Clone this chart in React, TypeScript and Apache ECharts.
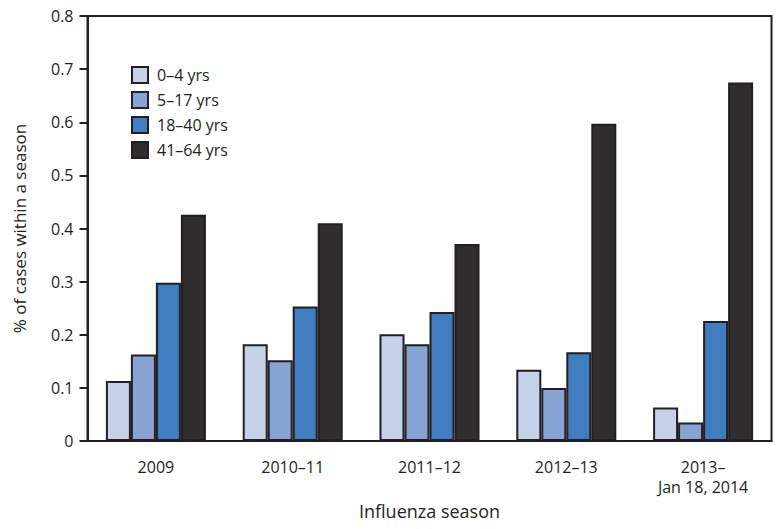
import React, { useEffect, useRef } from "react";
import * as echarts from "echarts";

const categories = ["2009", "2010–11", "2011–12", "2012–13", "2013–\nJan 18, 2014"];
const seriesNames = ["0–4 yrs", "5–17 yrs", "18–40 yrs", "41–64 yrs"];
const age0to4 = [0.113, 0.182, 0.201, 0.134, 0.063];
const age5to17 = [0.163, 0.152, 0.182, 0.1, 0.035];
const age18to40 = [0.298, 0.253, 0.243, 0.167, 0.226];
const age41to64 = [0.426, 0.41, 0.371, 0.597, 0.675];
const colors = ["#c6d1ea", "#87a3d4", "#407cc0", "#2f2d2e"];
const yTicks = ["0", "0.1", "0.2", "0.3", "0.4", "0.5", "0.6", "0.7", "0.8"];

const FONT = "'Open Sans', 'Noto Sans', sans-serif";
const INK = "#231f20";

export default function App() {
  const ref = useRef<HTMLDivElement>(null);
  useEffect(() => {
    if (!ref.current) return;
    const chart = echarts.init(ref.current, null, { renderer: "svg" });
    const data = [age0to4, age5to17, age18to40, age41to64];
    chart.setOption({
      animation: false,
      textStyle: { fontFamily: FONT, color: INK },
      grid: {
        left: 87.5,
        right: 11.5,
        top: 16,
        bottom: 88,
        show: true,
        borderColor: INK,
        borderWidth: 2,
        containLabel: false,
      },
      legend: {
        orient: "vertical",
        left: 126,
        top: 61,
        itemWidth: 16,
        itemHeight: 16,
        itemGap: 7,
        icon: "rect",
        itemStyle: { borderColor: INK, borderWidth: 2 },
        textStyle: { fontSize: 16, color: INK, fontFamily: FONT, padding: [0, 0, 0, 4] },
        data: seriesNames,
      },
      xAxis: {
        type: "category",
        data: categories,
        name: "Influenza season",
        nameLocation: "middle",
        nameGap: 58,
        nameTextStyle: { fontSize: 18, color: INK, fontFamily: FONT },
        axisLine: { lineStyle: { color: INK, width: 2 } },
        axisTick: { alignWithLabel: true, length: 10, lineStyle: { color: INK, width: 2 } },
        axisLabel: { margin: 16, fontSize: 16, color: INK, lineHeight: 20, fontFamily: FONT },
      },
      yAxis: {
        type: "value",
        min: 0,
        max: 0.8,
        interval: 0.1,
        name: "% of cases within a season",
        nameLocation: "middle",
        nameGap: 60,
        nameTextStyle: { fontSize: 17, color: INK, fontFamily: FONT },
        axisLine: { show: true, lineStyle: { color: INK, width: 2 } },
        axisTick: { show: true, length: 8, lineStyle: { color: INK, width: 2 } },
        splitLine: { show: false },
        axisLabel: {
          margin: 14,
          fontSize: 16,
          color: INK,
          fontFamily: FONT,
          formatter: (v: number) => yTicks[Math.round(v * 10)] ?? String(v),
        },
      },
      series: seriesNames.map((name, i) => ({
        name,
        type: "bar",
        data: data[i],
        barWidth: 25,
        barGap: "0%",
        itemStyle: { color: colors[i], borderColor: INK, borderWidth: 2 },
      })),
    });
    return () => chart.dispose();
  }, []);
  return <div ref={ref} style={{ width: 783, height: 529, margin: -8 }} />;
}
